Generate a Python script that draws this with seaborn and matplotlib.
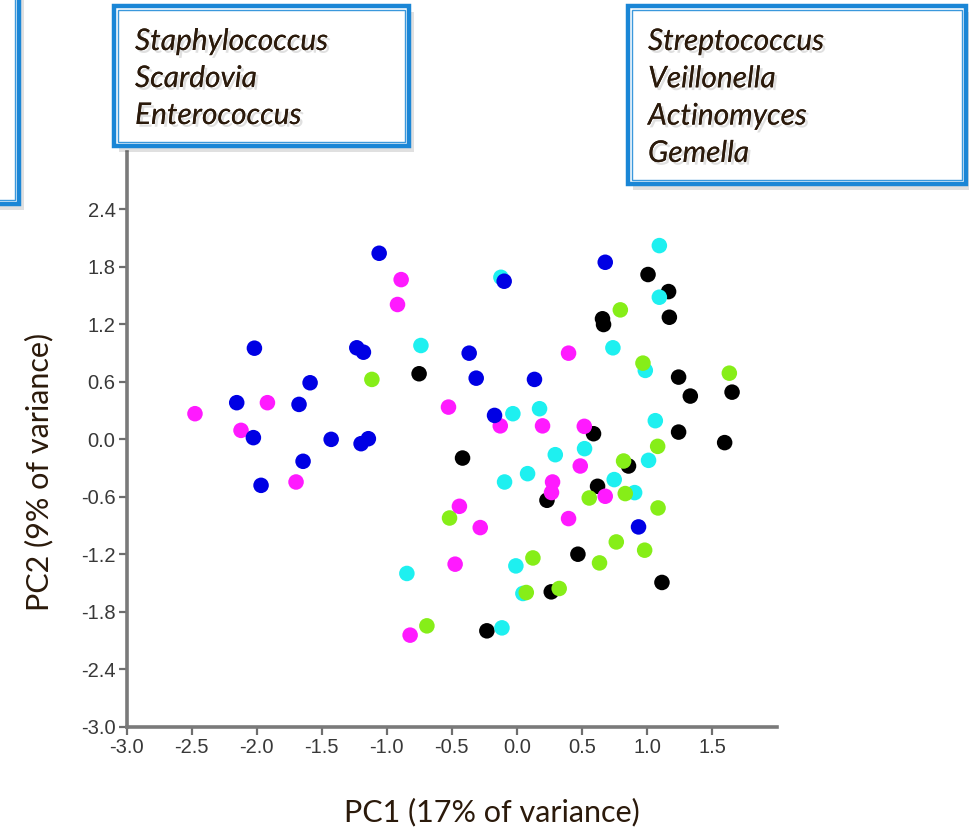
import pandas as pd
import matplotlib.pyplot as plt
import matplotlib.patheffects as pe
from matplotlib.patches import Rectangle
import seaborn as sns

# PC scores, one pair of lists per colour group
black_x = [-0.752, 1.008, 1.166, 1.172, 0.658, 0.666, 1.243, 1.333, 1.654, 1.597,
           1.243, 0.589, -0.418, 0.858, 0.620, 0.231, 0.469, 1.115, 0.264, -0.231]
black_y = [0.685, 1.721, 1.543, 1.275, 1.259, 1.199, 0.650, 0.452, 0.493, -0.034,
           0.076, 0.059, -0.195, -0.278, -0.490, -0.636, -1.199, -1.494, -1.592, -1.999]

cyan_x = [-0.123, -0.738, -0.031, 0.174, 1.095, 1.095, 0.738, 0.987, 1.064, -0.095,
          0.082, 0.295, 0.520, 1.012, 0.748, 0.905, -0.846, -0.008, 0.046, -0.115]
cyan_y = [1.692, 0.980, 0.268, 0.320, 2.023, 1.484, 0.956, 0.720, 0.195, -0.445,
          -0.358, -0.160, -0.097, -0.219, -0.420, -0.556, -1.400, -1.321, -1.609, -1.968]

green_x = [-1.115, 0.795, 0.969, 1.633, 1.082, 0.820, 0.556, 0.833, 1.085, -0.518,
           0.123, 0.072, 0.325, 0.764, 0.982, 0.635, -0.692]
green_y = [0.626, 1.352, 0.796, 0.691, -0.073, -0.226, -0.612, -0.566, -0.716, -0.821,
           -1.238, -1.599, -1.557, -1.071, -1.157, -1.290, -1.947]

magenta_x = [-2.475, -2.121, -1.918, -1.698, -0.890, -0.918, -0.526, -0.128, 0.197, 0.518,
             0.397, -0.442, -0.282, -0.475, -0.821, 0.274, 0.266, 0.487, 0.679, 0.397]
magenta_y = [0.268, 0.094, 0.383, -0.445, 1.668, 1.408, 0.337, 0.141, 0.141, 0.136,
             0.900, -0.699, -0.921, -1.303, -2.044, -0.445, -0.555, -0.278, -0.594, -0.827]

blue_x = [-1.059, -2.018, -2.154, -2.026, -1.967, -1.590, -1.675, -1.644, -1.428, -1.231,
          -1.180, -1.198, -1.142, -0.367, -0.313, -0.098, -0.172, 0.135, 0.679, 0.935]
blue_y = [1.943, 0.952, 0.383, 0.018, -0.480, 0.591, 0.365, -0.229, 0.000, 0.956,
          0.910, -0.045, 0.007, 0.900, 0.639, 1.651, 0.250, 0.626, 1.849, -0.914]

genera_left = ['Staphylococcus', 'Scardovia', 'Enterococcus']
genera_right = ['Streptococcus', 'Veillonella', 'Actinomyces', 'Gemella']

x_ticks = [-3.0, -2.5, -2.0, -1.5, -1.0, -0.5, 0.0, 0.5, 1.0, 1.5]
y_ticks = [-3.0, -2.4, -1.8, -1.2, -0.6, 0.0, 0.6, 1.2, 1.8, 2.4]

palette = {'black': '#000000', 'cyan': '#1ef0f0', 'green': '#86ee18',
           'magenta': '#ff1aff', 'blue': '#0000e4'}

# order of concatenation = drawing order
groups = [('black', black_x, black_y), ('cyan', cyan_x, cyan_y),
          ('green', green_x, green_y), ('magenta', magenta_x, magenta_y),
          ('blue', blue_x, blue_y)]
df = pd.concat([pd.DataFrame({'PC1': gx, 'PC2': gy, 'group': g}) for g, gx, gy in groups],
               ignore_index=True)

sns.set_style('ticks')
plt.rcParams['font.family'] = ['Liberation Sans', 'DejaVu Sans']

fig = plt.figure(figsize=(9.7, 8.33), dpi=100)
ax = fig.add_axes([0.1306, 0.1276, 0.6705, 0.6899])

sns.scatterplot(data=df, x='PC1', y='PC2', hue='group', palette=palette,
                s=125, linewidth=0, alpha=1, legend=False, ax=ax)

ax.set_xlim(-3.0, 2.0)
ax.set_ylim(-3.0, 3.0)
ax.set_xticks(x_ticks)
ax.set_yticks(y_ticks)
ax.set_xticklabels([f'{v:.1f}' for v in x_ticks])
ax.set_yticklabels([f'{v:.1f}' for v in y_ticks])
ax.tick_params(axis='both', labelsize=14.5, labelcolor='#383838', color='#6e6e6e',
               length=6, width=1.6, direction='out', pad=2)
sns.despine(ax=ax)
for side in ['left', 'bottom']:
    ax.spines[side].set_color('#7a7a7a')
    ax.spines[side].set_linewidth(2.6)

brown = '#2b1a0b'
ax.set_xlabel('PC1 (17% of variance)', fontsize=22, color=brown,
              family=['Lato', 'DejaVu Sans'])
ax.set_ylabel('PC2 (9% of variance)', fontsize=22, color=brown,
              family=['Lato', 'DejaVu Sans'])
ax.xaxis.set_label_coords(0.562, -0.123)
ax.yaxis.set_label_coords(-0.112, 0.443)


def px_box(x0, y0, x1, y1):
    # pixel rectangle -> figure fraction, with double blue frame and soft shadow
    W, H = 970, 833
    fx, fy = x0 / W, 1 - y1 / H
    fw, fh = (x1 - x0) / W, (y1 - y0) / H
    fig.patches.append(Rectangle((fx + 5 / W, fy - 6 / H), fw, fh, transform=fig.transFigure,
                                 facecolor='#000000', alpha=0.12, edgecolor='none', zorder=1))
    fig.patches.append(Rectangle((fx, fy), fw, fh, transform=fig.transFigure,
                                 facecolor='white', edgecolor='#1a86d6', linewidth=3.2, zorder=2))
    fig.patches.append(Rectangle((fx + 4 / W, fy + 4 / H), fw - 8 / W, fh - 8 / H,
                                 transform=fig.transFigure, facecolor='none',
                                 edgecolor='#3a98dc', linewidth=1.0, zorder=3))


px_box(-20, -20, 19, 204)
px_box(114, 6, 409, 146)
px_box(628, 6, 966, 184)

shadow = [pe.withSimplePatchShadow(offset=(2, -2), shadow_rgbFace='#9a9a9a', alpha=0.3),
          pe.Normal()]
for i, name in enumerate(genera_left):
    fig.text(135 / 970, 1 - (41 + 37 * i) / 833, name, fontsize=21.5, style='italic',
             color=brown, family=['Lato', 'DejaVu Sans'], va='center', ha='left',
             path_effects=shadow, zorder=5)
for i, name in enumerate(genera_right):
    fig.text(648 / 970, 1 - (41 + 37.3 * i) / 833, name, fontsize=21.5, style='italic',
             color=brown, family=['Lato', 'DejaVu Sans'], va='center', ha='left',
             path_effects=shadow, zorder=5)

fig.savefig('out.png', dpi=100)
